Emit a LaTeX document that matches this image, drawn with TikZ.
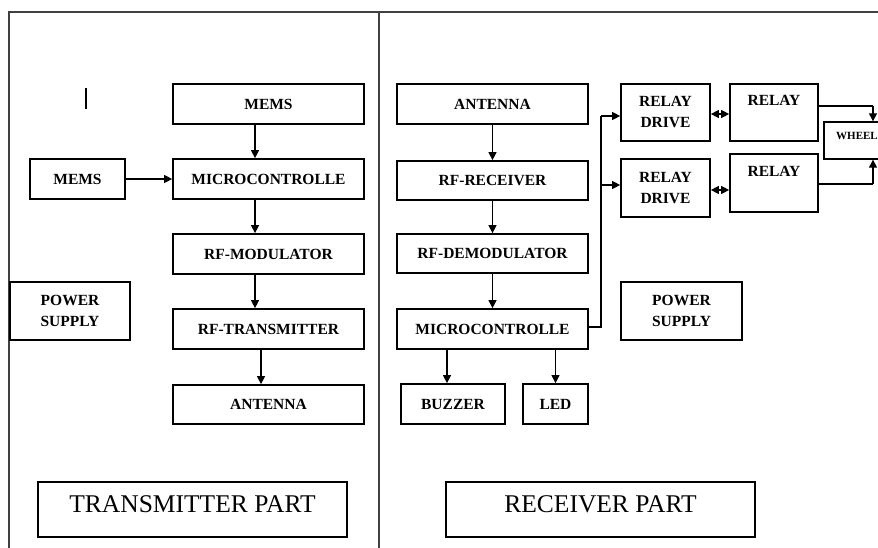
\documentclass[tikz,border=0pt]{standalone}
\usepackage{fontspec}
\setmainfont{Liberation Serif}
\usetikzlibrary{arrows.meta}
\begin{document}
\begin{tikzpicture}[x=1pt,y=-1pt,
  blk/.style={draw,line width=1.7pt,inner sep=0pt,font=\fontsize{15.5}{21}\selectfont\bfseries,align=center},
  ttl/.style={draw,line width=1.3pt,inner sep=0pt,font=\fontsize{25.5}{30}\selectfont,text height=18pt,text depth=13pt},
  arr/.style={line width=1.1pt,-{Triangle[length=8pt,width=8pt]}},
  darr/.style={line width=1.1pt,{Triangle[length=8pt,width=8pt]}-{Triangle[length=8pt,width=8pt]}},
  ln/.style={line width=1.1pt}]
\useasboundingbox (0,0) rectangle (878,548);
\clip (0,0) rectangle (878,548);
% frame
\draw[line width=1.2pt,black!75] (9,548) -- (9,12) -- (880,12);
\draw[line width=1.2pt,black!75] (379,12) -- (379,548);
\draw[line width=1.4pt] (86,88) -- (86,109);
% transmitter
\node[blk,minimum width=191pt,minimum height=40pt] (tmems) at (268.5,104) {MEMS};
\node[blk,minimum width=191pt,minimum height=40pt] (tmc) at (268.5,179) {MICROCONTROLLE};
\node[blk,minimum width=95pt,minimum height=40pt] (lmems) at (77.5,179) {MEMS};
\node[blk,minimum width=191pt,minimum height=40pt] (tmod) at (268.5,254) {RF-MODULATOR};
\node[blk,minimum width=120pt,minimum height=58pt] (tps) at (70,311) {POWER\\SUPPLY};
\node[blk,minimum width=191pt,minimum height=40pt] (ttx) at (268.5,329) {RF-TRANSMITTER};
\node[blk,minimum width=191pt,minimum height=39pt] (tant) at (268.5,404.5) {ANTENNA};
\node[ttl,minimum width=309pt,minimum height=55pt] (tpart) at (192.5,509.5) {TRANSMITTER PART};
\draw[arr] (tmems.south -| 255,0) -- (tmc.north -| 255,0);
\draw[arr] (lmems.east) -- (tmc.west);
\draw[arr] (tmc.south -| 255,0) -- (tmod.north -| 255,0);
\draw[arr] (tmod.south -| 255,0) -- (ttx.north -| 255,0);
\draw[arr] (ttx.south -| 261,0) -- (tant.north -| 261,0);
% receiver
\node[blk,minimum width=191pt,minimum height=40pt] (rant) at (492.5,104) {ANTENNA};
\node[blk,minimum width=191pt,minimum height=39pt] (rrx) at (492.5,180.5) {RF-RECEIVER};
\node[blk,minimum width=191pt,minimum height=39pt] (rdem) at (492.5,253.5) {RF-DEMODULATOR};
\node[blk,minimum width=191pt,minimum height=40pt] (rmc) at (492.5,329) {MICROCONTROLLE};
\node[blk,minimum width=104pt,minimum height=40pt] (buz) at (453,404) {BUZZER};
\node[blk,minimum width=65pt,minimum height=40pt] (led) at (555.5,404) {LED};
\node[blk,minimum width=121pt,minimum height=58pt] (rps) at (681.5,311) {POWER\\SUPPLY};
\node[blk,minimum width=89pt,minimum height=57pt] (rd1) at (665.5,112.5) {RELAY\\DRIVE};
\node[blk,minimum width=89pt,minimum height=58pt] (rd2) at (665.5,188) {RELAY\\DRIVE};
\node[blk,minimum width=88pt,minimum height=57pt,text height=11pt,text depth=24pt] (rl1) at (774,112.5) {RELAY};
\node[blk,minimum width=88pt,minimum height=58pt,text height=11pt,text depth=24pt] (rl2) at (774,183) {RELAY};
\node[draw,line width=1.3pt,minimum width=80pt,minimum height=37pt,inner sep=0pt] (wh) at (864,140.5) {};
\node[font=\fontsize{11}{13}\selectfont\bfseries,anchor=west,inner sep=0pt] (wht) at (836,136) {WHEEL};
\node[ttl,minimum width=309pt,minimum height=55pt] (rpart) at (600.5,509.5) {RECEIVER PART};
\draw[arr] (rant.south) -- (rrx.north);
\draw[arr] (rrx.south) -- (rdem.north);
\draw[arr] (rdem.south) -- (rmc.north);
\draw[arr] (rmc.south -| buz.north) ++(-6,0) coordinate (b0) -- (b0 |- buz.north);
\draw[arr] (rmc.south -| led.north) coordinate (l0) -- (l0 |- led.north);
\coordinate (bus1) at (601,116);
\coordinate (bus2) at (601,185);
\draw[ln] (rmc.east |- 0,327) -- (601,327) -- (bus1);
\draw[arr] (bus1) -- (bus1 -| rd1.west);
\draw[arr] (bus2) -- (bus2 -| rd2.west);
\draw[darr] (rd1.east |- 0,114) -- (rl1.west |- 0,114);
\draw[darr] (rd2.east |- 0,190) -- (rl2.west |- 0,190);
\coordinate (w1) at (873,106);
\coordinate (w2) at (873,184);
\draw[ln] (rl1.east |- w1) -- (w1);
\draw[arr] (w1) -- (w1 |- wh.north);
\draw[ln] (rl2.east |- w2) -- (w2);
\draw[arr] (w2) -- (w2 |- wh.south);
\end{tikzpicture}
\end{document}
